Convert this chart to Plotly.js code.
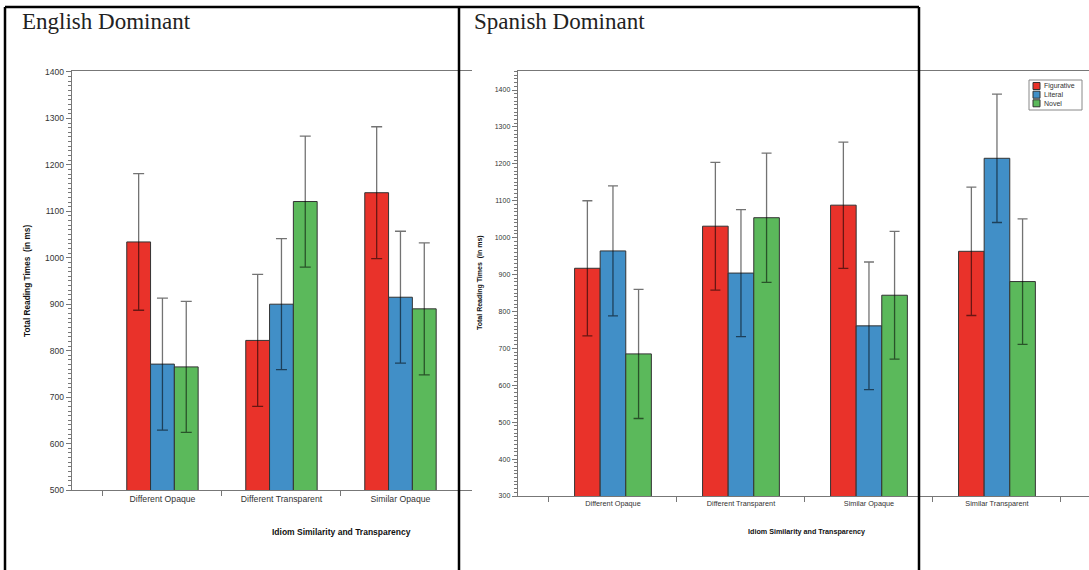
<!DOCTYPE html>
<html>
<head>
<meta charset="utf-8">
<script src="https://cdn.plot.ly/plotly-3.0.1.min.js"></script>
<style>html,body{margin:0;padding:0;background:#fff;}#chart{width:1089px;height:570px;}</style>
</head>
<body>
<div id="chart"></div>
<script>
// ---- data ----
const seriesNames = ['Figurative', 'Literal', 'Novel'];
const seriesColors = ['#e9322a', '#418fc7', '#5bb95b'];

const engCategories = ['Different Opaque', 'Different Transparent', 'Similar Opaque'];
const engFigurative = [1034, 822, 1140];
const engFigurativeErr = [147, 142, 142];
const engLiteral = [771, 900, 915];
const engLiteralErr = [142, 141, 142];
const engNovel = [765, 1121, 890];
const engNovelErr = [141, 141, 142];

const spaCategories = ['Different Opaque', 'Different Transparent', 'Similar Opaque', 'Similar Transparent'];
const spaFigurative = [917, 1031, 1088, 963];
const spaFigurativeErr = [183, 173, 171, 174];
const spaLiteral = [964, 904, 761, 1215];
const spaLiteralErr = [176, 172, 173, 174];
const spaNovel = [685, 1054, 844, 881];
const spaNovelErr = [175, 175, 173, 170];

const panelTitles = ['English Dominant', 'Spanish Dominant'];
const yTitle = 'Total Reading Times  (in ms)';
const xTitle = 'Idiom Similarity and Transparency';

// ---- helpers ----
const W = 1089, H = 570;
const px = x => x / W;
const py = y => 1 - y / H;

function bar(cats, vals, errs, i, xa, ya, errW) {
  return {
    type: 'bar', x: cats, y: vals, name: seriesNames[i], xaxis: xa, yaxis: ya,
    showlegend: false,
    marker: {color: seriesColors[i], line: {color: '#333', width: 1}},
    error_y: {type: 'data', array: errs, visible: true, color: 'rgba(0,0,0,0.55)', thickness: 1.3, width: errW}
  };
}

const data = [
  bar(engCategories, engFigurative, engFigurativeErr, 0, 'x', 'y', 5.5),
  bar(engCategories, engLiteral, engLiteralErr, 1, 'x', 'y', 5.5),
  bar(engCategories, engNovel, engNovelErr, 2, 'x', 'y', 5.5),
  bar(spaCategories, spaFigurative, spaFigurativeErr, 0, 'x2', 'y2', 5),
  bar(spaCategories, spaLiteral, spaLiteralErr, 1, 'x2', 'y2', 5),
  bar(spaCategories, spaNovel, spaNovelErr, 2, 'x2', 'y2', 5)
];

const axisCommon = {showline: true, linecolor: '#777', linewidth: 1.3, showgrid: false, zeroline: false,
  ticks: 'outside', tickcolor: '#777', ticklen: 5, tickwidth: 1};

const layout = {
  width: W, height: H,
  margin: {l: 0, r: 0, t: 0, b: 0},
  paper_bgcolor: '#fff', plot_bgcolor: '#fff',
  barmode: 'group', bargap: 0.4, bargroupgap: 0,
  showlegend: false,
  font: {family: 'Liberation Sans, Arial, sans-serif', color: '#333'},
  xaxis: Object.assign({}, axisCommon, {
    domain: [px(72), px(472)], anchor: 'y', type: 'category',
    range: [-0.76, 2.601], tickson: 'boundaries', mirror: true,
    tickfont: {size: 8.7, color: '#333'}
  }),
  yaxis: Object.assign({}, axisCommon, {
    domain: [py(490), py(71)], anchor: 'x',
    range: [500, 1402], dtick: 100, tick0: 500,
    minor: {dtick: 10, ticks: 'outside', ticklen: 3, tickcolor: '#777', tickwidth: 1},
    tickfont: {size: 8.5, color: '#333'}
  }),
  xaxis2: Object.assign({}, axisCommon, {
    domain: [px(518), 1], anchor: 'y2', type: 'category',
    range: [-0.742, 3.719], tickson: 'boundaries', mirror: true,
    tickfont: {size: 7.3, color: '#333'}
  }),
  yaxis2: Object.assign({}, axisCommon, {
    domain: [py(496), py(71)], anchor: 'x2',
    range: [300, 1451.5], dtick: 100, tick0: 300,
    minor: {dtick: 10, ticks: 'outside', ticklen: 3, tickcolor: '#777', tickwidth: 1},
    tickfont: {size: 7, color: '#333'}
  }),
  annotations: [
    {text: panelTitles[0], xref: 'paper', yref: 'paper', x: px(20), y: py(21), xanchor: 'left', yanchor: 'middle',
     showarrow: false, font: {family: 'Liberation Serif, serif', size: 23, color: '#222'}},
    {text: panelTitles[1], xref: 'paper', yref: 'paper', x: px(472), y: py(21), xanchor: 'left', yanchor: 'middle',
     showarrow: false, font: {family: 'Liberation Serif, serif', size: 23, color: '#222'}},
    {text: '<b>' + yTitle + '</b>', xref: 'paper', yref: 'paper', x: px(27), y: py(281), textangle: -90,
     xanchor: 'center', yanchor: 'middle', showarrow: false, font: {size: 8.3, color: '#111'}},
    {text: '<b>' + yTitle + '</b>', xref: 'paper', yref: 'paper', x: px(480), y: py(283), textangle: -90,
     xanchor: 'center', yanchor: 'middle', showarrow: false, font: {size: 7, color: '#111'}},
    {text: '<b>' + xTitle + '</b>', xref: 'paper', yref: 'paper', x: px(341), y: py(532),
     xanchor: 'center', yanchor: 'middle', showarrow: false, font: {size: 8.5, color: '#111'}},
    {text: '<b>' + xTitle + '</b>', xref: 'paper', yref: 'paper', x: px(806), y: py(531),
     xanchor: 'center', yanchor: 'middle', showarrow: false, font: {size: 7.2, color: '#111'}}
  ],
  shapes: [
    {type: 'line', xref: 'paper', yref: 'paper', x0: px(5), x1: px(919), y0: py(7), y1: py(7), line: {color: '#000', width: 2.5}, layer: 'above'},
    {type: 'line', xref: 'paper', yref: 'paper', x0: px(5), x1: px(5), y0: py(7), y1: py(572), line: {color: '#000', width: 2.5}, layer: 'above'},
    {type: 'line', xref: 'paper', yref: 'paper', x0: px(459), x1: px(459), y0: py(7), y1: py(572), line: {color: '#000', width: 2.5}, layer: 'above'},
    {type: 'line', xref: 'paper', yref: 'paper', x0: px(919), x1: px(919), y0: py(7), y1: py(572), line: {color: '#000', width: 2.5}, layer: 'above'},
    // legend frame
    {type: 'rect', xref: 'paper', yref: 'paper', x0: px(1029), x1: px(1082), y0: py(80), y1: py(110),
     line: {color: '#888', width: 1}, fillcolor: '#fff', layer: 'above'}
  ]
};

// manual legend
const legendRowY = [86, 94.7, 103.3];
seriesNames.forEach((n, i) => {
  layout.shapes.push({type: 'rect', xref: 'paper', yref: 'paper', x0: px(1033), x1: px(1040),
    y0: py(legendRowY[i] + 3.5), y1: py(legendRowY[i] - 3.5),
    fillcolor: seriesColors[i], line: {color: '#333', width: 1}, layer: 'above'});
  layout.annotations.push({text: n, xref: 'paper', yref: 'paper', x: px(1041.5), y: py(legendRowY[i]),
    xanchor: 'left', yanchor: 'middle', showarrow: false, font: {size: 7, color: '#333'}});
});

Plotly.newPlot('chart', data, layout, {staticPlot: true, displayModeBar: false});
</script>
</body>
</html>
